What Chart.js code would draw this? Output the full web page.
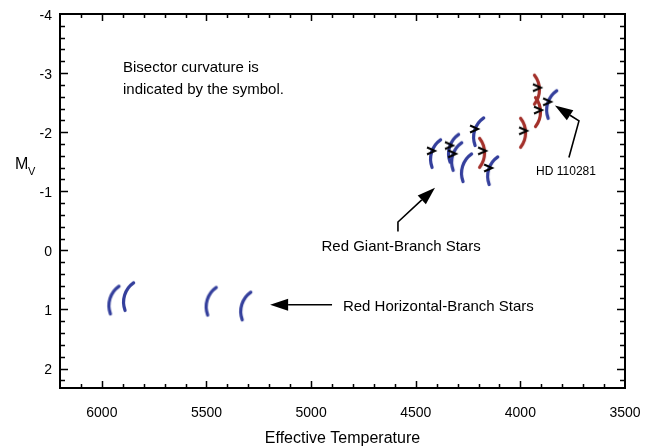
<!DOCTYPE html>
<html>
<head>
<meta charset="utf-8">
<script src="https://cdn.jsdelivr.net/npm/chart.js@4"></script>
<style>
  html, body { margin: 0; padding: 0; background: #fff; }
  #hrChart { display: block; }
</style>
</head>
<body>
<canvas id="hrChart" width="647" height="448"></canvas>
<script>
// Star data
const starTemp = [5950, 5880, 5485, 5320, 4413, 4327, 4312, 4265, 4207, 4183, 4140, 3987, 3921, 3916, 3858];
const starMv = [0.83, 0.77, 0.85, 0.93, -1.65, -1.74, -1.60, -1.41, -2.02, -1.65, -1.36, -1.99, -2.72, -2.34, -2.48];
// 'C' = bulge to the left, 'R' = bulge to the right
const starCurve = ['C', 'C', 'C', 'C', 'C', 'C', 'C', 'C', 'C', 'R', 'C', 'R', 'R', 'R', 'C'];
const starMarked = [false, false, false, false, true, true, true, false, true, true, true, true, true, true, true];

const xTickLabels = [6000, 5500, 5000, 4500, 4000, 3500];
const yTickLabels = [-4, -3, -2, -1, 0, 1, 2];

const FONT = '"Liberation Sans", Arial, Helvetica, sans-serif';
const BLUE = '#343f9c';
const RED = '#a3302a';

// curved bisector symbol drawn into a small canvas
function makeSymbol(curve, marked) {
    const c = document.createElement('canvas');
    c.width = 40;
    c.height = 40;
    const g = c.getContext('2d');
    const L = 29, s = 5;
    const R = (L * L / 4 + s * s) / (2 * s);
    const th = Math.asin(L / 2 / R);
    g.save();
    g.translate(20, 20);
    g.rotate(curve === 'C' ? 0.3 : 0);
    g.strokeStyle = curve === 'C' ? BLUE : RED;
    g.lineWidth = 3.2;
    g.lineCap = 'round';
    g.beginPath();
    if (curve === 'C') {
        g.arc(-s / 2 + R, 0, R, Math.PI - th, Math.PI + th);
    } else {
        g.arc(s / 2 - R, 0, R, -th, th);
    }
    g.stroke();
    g.restore();
    if (marked) {
        const tip = curve === 'C' ? 1 : 4;
        g.strokeStyle = '#000';
        g.lineWidth = 2;
        g.lineJoin = 'miter';
        g.beginPath();
        g.moveTo(20 + tip - 8, 20 - 2 - 3.5);
        g.lineTo(20 + tip, 20 - 2);
        g.lineTo(20 + tip - 8, 20 - 2 + 3.5);
        g.stroke();
    }
    return c;
}

// annotations in data units
const notes = [
    { text: 'Bisector curvature is', t: 5899, mv: -3.085, size: 15, align: 'left' },
    { text: 'indicated by the symbol.', t: 5899, mv: -2.715, size: 15, align: 'left' },
    { text: 'Red Giant-Branch Stars', t: 4570, mv: -0.065, size: 15, align: 'center' },
    { text: 'HD 110281', t: 3782, mv: -1.33, size: 12, align: 'center' },
    { text: 'Red Horizontal-Branch Stars', t: 4848, mv: 0.965, size: 15, align: 'left' }
];
const arrows = [
    [[4585, -0.32], [4585, -0.48], [4408, -1.06]],
    [[3768, -1.57], [3720, -2.19], [3835, -2.45]],
    [[4900, 0.92], [5196, 0.92]]
];

const framePlugin = {
    id: 'frame',
    afterDraw(chart) {
        const c = chart.ctx;
        const a = chart.chartArea;
        const xs = chart.scales.x;
        const ys = chart.scales.y;
        c.save();
        c.strokeStyle = '#000';

        // inward ticks on all four sides
        c.lineWidth = 1.5;
        c.beginPath();
        for (let t = 3600; t < 6200; t += 100) {
            const px = Math.round(xs.getPixelForValue(t)) + 0.5;
            const len = t % 500 === 0 ? 7 : 4;
            c.moveTo(px, a.bottom); c.lineTo(px, a.bottom - len);
            c.moveTo(px, a.top); c.lineTo(px, a.top + len);
        }
        for (let i = -19; i <= 11; i++) {
            const py = Math.round(ys.getPixelForValue(i * 0.2)) + 0.5;
            const len = i % 5 === 0 ? 8 : 5;
            c.moveTo(a.left, py); c.lineTo(a.left + len, py);
            c.moveTo(a.right, py); c.lineTo(a.right - len, py);
        }
        c.stroke();

        // box
        c.lineWidth = 2;
        c.strokeRect(a.left, a.top, a.right - a.left, a.bottom - a.top);

        // arrows
        c.lineWidth = 1.6;
        c.fillStyle = '#000';
        arrows.forEach(pts => {
            const p = pts.map(q => [xs.getPixelForValue(q[0]), ys.getPixelForValue(q[1])]);
            const n = p.length;
            const tip = p[n - 1], from = p[n - 2];
            const ang = Math.atan2(tip[1] - from[1], tip[0] - from[0]);
            const hl = 18, hw = 6;
            const bx = tip[0] - hl * Math.cos(ang), by = tip[1] - hl * Math.sin(ang);
            c.beginPath();
            c.moveTo(p[0][0], p[0][1]);
            for (let i = 1; i < n - 1; i++) c.lineTo(p[i][0], p[i][1]);
            c.lineTo(bx, by);
            c.stroke();
            c.beginPath();
            c.moveTo(tip[0], tip[1]);
            c.lineTo(bx + hw * Math.sin(ang), by - hw * Math.cos(ang));
            c.lineTo(bx - hw * Math.sin(ang), by + hw * Math.cos(ang));
            c.closePath();
            c.fill();
        });

        // notes
        c.textBaseline = 'middle';
        notes.forEach(n => {
            c.font = n.size + 'px ' + FONT;
            c.textAlign = n.align;
            c.fillText(n.text, xs.getPixelForValue(n.t), ys.getPixelForValue(n.mv));
        });

        // y axis title M_V
        c.textAlign = 'left';
        c.textBaseline = 'alphabetic';
        c.font = '16px ' + FONT;
        c.fillText('M', a.left - 45, 169);
        c.font = '11px ' + FONT;
        c.fillText('V', a.left - 32, 175);
        c.restore();
    }
};

document.addEventListener('DOMContentLoaded', () => {
    const ctx = document.getElementById('hrChart').getContext('2d');
    const points = starTemp.map((t, i) => ({ x: t, y: starMv[i] }));
    const symbols = starCurve.map((cv, i) => makeSymbol(cv, starMarked[i]));

    new Chart(ctx, {
        type: 'scatter',
        data: {
            datasets: [{
                data: points,
                pointStyle: symbols,
                pointRadius: 12,
                pointHoverRadius: 12
            }]
        },
        options: {
            responsive: false,
            animation: false,
            events: [],
            layout: { padding: { top: 14, right: 22, left: 0, bottom: 0 } },
            plugins: {
                legend: { display: false },
                tooltip: { enabled: false }
            },
            scales: {
                x: {
                    type: 'linear',
                    min: 3500,
                    max: 6200,
                    reverse: true,
                    grid: { display: false, drawTicks: false },
                    border: { display: false },
                    ticks: {
                        color: '#000',
                        font: { family: FONT, size: 14 },
                        padding: 17,
                        maxRotation: 0,
                        callback: v => String(v)
                    },
                    title: {
                        display: true,
                        text: 'Effective Temperature',
                        color: '#000',
                        font: { family: FONT, size: 16 },
                        padding: { top: 0, bottom: 0 }
                    },
                    afterBuildTicks: s => { s.ticks = xTickLabels.map(v => ({ value: v })); },
                    afterFit: s => {
                        s.height = 60;
                        s.paddingLeft = 0;
                        s.paddingRight = 0;
                    }
                },
                y: {
                    type: 'linear',
                    min: -4,
                    max: 2.33,
                    reverse: true,
                    grid: { display: false, drawTicks: false },
                    border: { display: false },
                    ticks: { color: '#000', font: { family: FONT, size: 14 }, padding: 8, labelOffset: 2 },
                    afterBuildTicks: s => { s.ticks = yTickLabels.map(v => ({ value: v })); },
                    afterFit: s => {
                        s.width = 60;
                        s.paddingTop = 0;
                        s.paddingBottom = 0;
                    }
                }
            }
        },
        plugins: [framePlugin]
    });
});
</script>
</body>
</html>
